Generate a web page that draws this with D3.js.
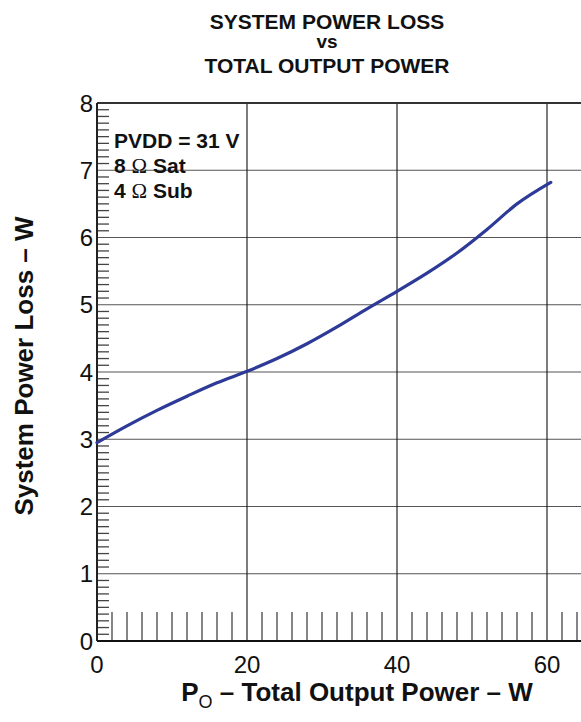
<!DOCTYPE html>
<html lang="en">
<head>
  <meta charset="UTF-8">
  <title>System Power Loss vs Total Output Power</title>
  <script src="https://d3js.org/d3.v7.min.js"></script>
  <style>
    html, body { margin: 0; padding: 0; background: #fff; }
    svg { display: block; font-family: "Liberation Sans", Arial, sans-serif; }
  </style>
</head>
<body>
  <div id="chart"></div>
  <script>
    // curve (W out vs W lost)
    const outputPower = [0, 4, 8, 12, 16, 20, 24, 28, 32, 36, 40, 44, 48, 52, 56, 60.5];
    const powerLoss = [2.95, 3.2, 3.43, 3.64, 3.84, 4.01, 4.2, 4.42, 4.67, 4.94, 5.2, 5.47, 5.77, 6.12, 6.5, 6.82];

    const xMajorTicks = [0, 20, 40, 60];
    const yMajorTicks = [0, 1, 2, 3, 4, 5, 6, 7, 8];
    const titleLines = ["SYSTEM POWER LOSS", "vs", "TOTAL OUTPUT POWER"];
    const noteLines = [["PVDD = 31 V", ""], ["8 ", "Ω", " Sat"], ["4 ", "Ω", " Sub"]];

    const width = 581, height = 722;
    const margin = { left: 97, top: 103, bottom: 81 };

    const svg = d3.select("#chart").append("svg")
      .attr("width", width).attr("height", height);

    // x axis runs to 65 W, a bit past the window edge
    const x = d3.scaleLinear().domain([0, 65]).range([margin.left, margin.left + 65 * 7.5]);
    const y = d3.scaleLinear().domain([0, 8]).range([height - margin.bottom, margin.top]);

    const plot = svg.append("g");

    // horizontal grid
    plot.selectAll(".hgrid").data(yMajorTicks.filter(d => d > 0 && d < 8)).join("line")
      .attr("x1", x(0)).attr("x2", x(65))
      .attr("y1", d => y(d)).attr("y2", d => y(d))
      .attr("stroke", "#555").attr("stroke-width", 1.2);

    // vertical grid
    plot.selectAll(".vgrid").data(xMajorTicks.filter(d => d > 0)).join("line")
      .attr("x1", d => x(d)).attr("x2", d => x(d))
      .attr("y1", y(0)).attr("y2", y(8))
      .attr("stroke", "#111").attr("stroke-width", 1.1);

    // minor ticks on the y axis, every 0.1
    const yMinor = d3.range(1, 80).map(i => i / 10).filter(d => Math.abs(d - Math.round(d)) > 1e-6);
    plot.selectAll(".ym").data(yMinor).join("line")
      .attr("x1", x(0)).attr("x2", x(0) + 12)
      .attr("y1", d => y(d)).attr("y2", d => y(d))
      .attr("stroke", "#444").attr("stroke-width", 1.3);

    // minor ticks on the x axis, every 2 W
    const xMinor = d3.range(2, 66, 2).filter(d => d % 20 !== 0);
    plot.selectAll(".xm").data(xMinor).join("line")
      .attr("x1", d => x(d)).attr("x2", d => x(d))
      .attr("y1", y(0)).attr("y2", y(0) - 29)
      .attr("stroke", "#444").attr("stroke-width", 1.3);

    // frame
    plot.append("line").attr("x1", x(0)).attr("x2", x(65)).attr("y1", y(8)).attr("y2", y(8))
      .attr("stroke", "#333").attr("stroke-width", 2);
    plot.append("line").attr("x1", x(0)).attr("x2", x(65)).attr("y1", y(0)).attr("y2", y(0))
      .attr("stroke", "#111").attr("stroke-width", 2);
    plot.append("line").attr("x1", x(0)).attr("x2", x(0)).attr("y1", y(0)).attr("y2", y(8))
      .attr("stroke", "#222").attr("stroke-width", 2);

    // tick labels
    svg.selectAll(".ylab").data(yMajorTicks).join("text")
      .attr("x", x(0) - 4).attr("y", d => y(d) + 8.5)
      .attr("text-anchor", "end").attr("font-size", 24).attr("fill", "#111")
      .text(d => d);

    svg.selectAll(".xlab").data(xMajorTicks).join("text")
      .attr("x", d => x(d)).attr("y", 673)
      .attr("text-anchor", "middle").attr("font-size", 24).attr("fill", "#111")
      .text(d => d);

    // curve
    const line = d3.line().x((d, i) => x(outputPower[i])).y(d => y(d)).curve(d3.curveMonotoneX);
    plot.append("path").datum(powerLoss)
      .attr("d", line).attr("fill", "none")
      .attr("stroke", "#2e3a97").attr("stroke-width", 3.2).attr("stroke-linecap", "round");

    // title
    const titleY = [29, 48, 73];
    svg.selectAll(".title").data(titleLines).join("text")
      .attr("x", 327).attr("y", (d, i) => titleY[i])
      .attr("text-anchor", "middle").attr("font-size", (d, i) => i === 1 ? 19 : 21)
      .attr("font-weight", "bold").attr("fill", "#111")
      .text(d => d);

    // condition note
    noteLines.forEach((parts, i) => {
      const t = svg.append("text").attr("x", 114).attr("y", 148 + i * 25)
        .attr("font-size", 21).attr("font-weight", "bold").attr("fill", "#111");
      parts.forEach((p, j) => {
        const s = t.append("tspan").text(p);
        if (j === 1) s.attr("font-weight", "normal").attr("font-family", "'Liberation Serif', serif");
      });
    });

    // axis titles
    const xt = svg.append("text").attr("x", 357).attr("y", 701)
      .attr("text-anchor", "middle").attr("font-size", 26).attr("font-weight", "bold").attr("fill", "#111");
    xt.append("tspan").text("P");
    xt.append("tspan").attr("font-size", 18).attr("font-weight", "normal").attr("dy", 7).text("O");
    xt.append("tspan").attr("dy", -7).text(" – Total Output Power – W");

    svg.append("text")
      .attr("transform", `translate(33, ${366}) rotate(-90)`)
      .attr("text-anchor", "middle").attr("font-size", 26).attr("font-weight", "bold").attr("fill", "#111")
      .text("System Power Loss – W");
  </script>
</body>
</html>
